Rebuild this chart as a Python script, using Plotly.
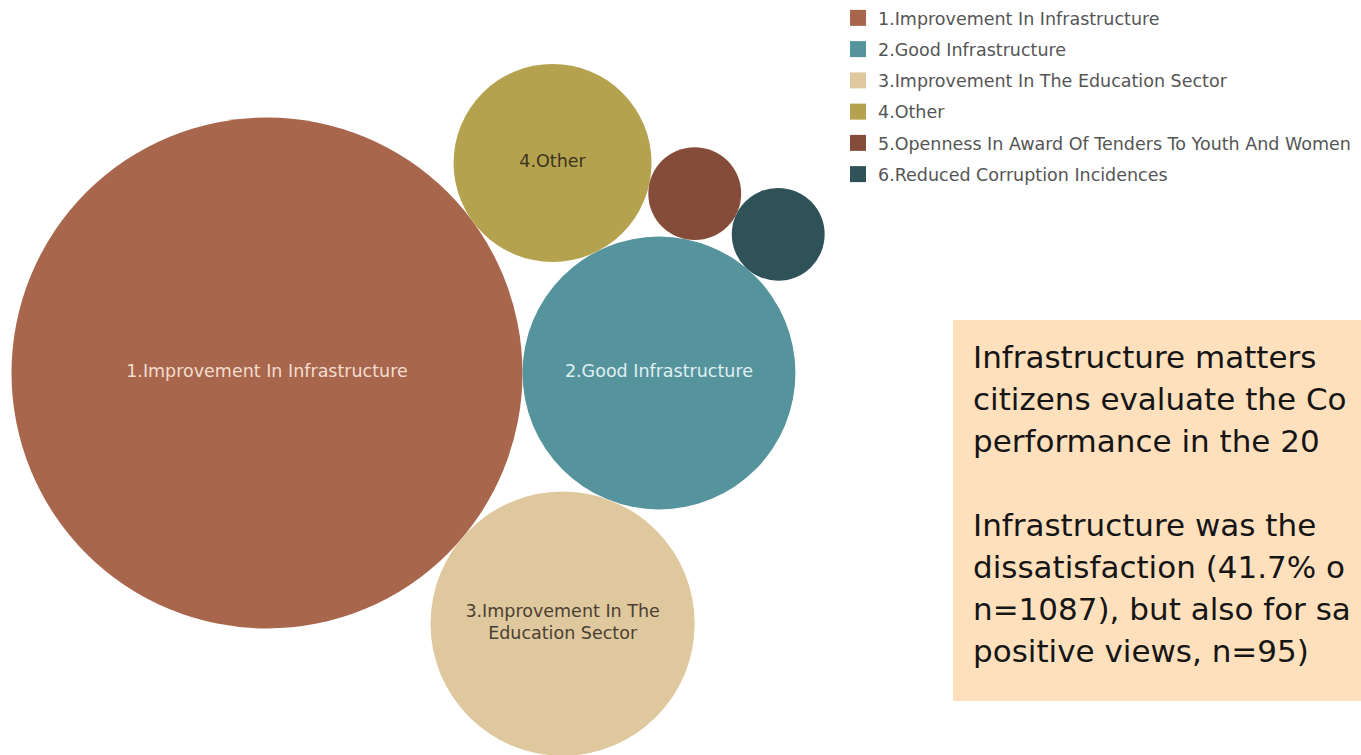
import math
import plotly.graph_objects as go

# ---------------- data ----------------
categories = [
    "1.Improvement In Infrastructure",
    "2.Good Infrastructure",
    "3.Improvement In The Education Sector",
    "4.Other",
    "5.Openness In Award Of Tenders To Youth And Women",
    "6.Reduced Corruption Incidences",
]
bubble_labels = [
    "1.Improvement In Infrastructure",
    "2.Good Infrastructure",
    "3.Improvement In The<br>Education Sector",
    "4.Other",
    "",
    "",
]
values = [333, 95, 89, 50, 11, 11]
colors = ["#A8674C", "#55939D", "#DFC89E", "#B5A24E", "#854D39", "#2F5158"]
label_colors = ["#F3DDD0", "#E0F0F1", "#4A3F33", "#3B341E", "#FFFFFF", "#FFFFFF"]

note_lines = [
    "Infrastructure matters",
    "citizens evaluate the Co",
    "performance in the 20",
    "",
    "Infrastructure was the",
    "dissatisfaction (41.7% o",
    "n=1087), but also for sa",
    "positive views, n=95)",
]

# ---------------- layout (pixel space) ----------------
W, H = 1361, 755
max_radius = 255.5
origin = (267.0, 373.0)

radii = [max_radius * math.sqrt(v / max(values)) for v in values]


def tangent(ca, ra, cb, rb, r):
    """Both centres of a circle of radius r touching circles a and b."""
    da, db = ra + r, rb + r
    dx, dy = cb[0] - ca[0], cb[1] - ca[1]
    D = math.hypot(dx, dy)
    a = (da * da - db * db + D * D) / (2 * D)
    h = math.sqrt(max(da * da - a * a, 0.0))
    ux, uy = dx / D, dy / D
    px, py = ca[0] + a * ux, ca[1] + a * uy
    return [(px - h * uy, py + h * ux), (px + h * uy, py - h * ux)]


centers = [None] * 6
centers[0] = origin
centers[1] = (origin[0] + radii[0] + radii[1], origin[1])
c3 = tangent(centers[0], radii[0], centers[1], radii[1], radii[2])
centers[2] = max(c3, key=lambda p: p[1])          # below
c4 = tangent(centers[0], radii[0], centers[1], radii[1], radii[3])
centers[3] = min(c4, key=lambda p: p[1])          # above
c5 = tangent(centers[3], radii[3], centers[1], radii[1], radii[4])
centers[4] = max(c5, key=lambda p: p[0])          # right
c6 = tangent(centers[4], radii[4], centers[1], radii[1], radii[5])
centers[5] = max(c6, key=lambda p: p[0])          # right

fig = go.Figure()

label_font = "DejaVu Sans"
label_size = 17.5
for i, cat in enumerate(categories):
    fig.add_trace(go.Scatter(
        x=[centers[i][0]], y=[centers[i][1]],
        mode="markers+text",
        marker=dict(size=2 * radii[i], color=colors[i], line=dict(width=0), opacity=1),
        text=[bubble_labels[i]],
        textposition="middle center",
        textfont=dict(family=label_font, size=label_size, color=label_colors[i]),
        showlegend=False,
        hoverinfo="text",
        hovertext=[f"{cat}: {values[i]}"],
    ))

# legend entries (square swatches)
for i, cat in enumerate(categories):
    fig.add_trace(go.Scatter(
        x=[None], y=[None], mode="markers", name=cat,
        marker=dict(symbol="square", size=20, color=colors[i]),
        legendgroup=f"g{i}", showlegend=True,
    ))

# note box
box_x0, box_x1, box_y0, box_y1 = 953, W + 5, 320, 701
fig.add_shape(type="rect", x0=box_x0, x1=box_x1, y0=box_y0, y1=box_y1,
              xref="x", yref="y", fillcolor="#FFE0BD", line=dict(width=0), layer="below")

line_y0, line_step = 357, 42
for k, line in enumerate(note_lines):
    if not line:
        continue
    fig.add_annotation(x=971, y=line_y0 + k * line_step, xref="x", yref="y",
                       text=line, showarrow=False, xanchor="left", yanchor="middle",
                       font=dict(family="DejaVu Sans", size=31, color="#151515"))

fig.update_layout(
    width=W, height=H,
    margin=dict(l=0, r=0, t=0, b=0),
    paper_bgcolor="white", plot_bgcolor="white",
    xaxis=dict(range=[0, W], visible=False, fixedrange=True),
    yaxis=dict(range=[H, 0], visible=False, fixedrange=True),
    legend=dict(x=838 / W, y=1, xanchor="left", yanchor="top",
                font=dict(family=label_font, size=label_size, color="#555555"),
                tracegroupgap=5.5, bgcolor="rgba(0,0,0,0)", itemclick=False),
)

fig.write_html("out.html", config={"displayModeBar": False},
               post_script="document.body.style.margin='0';document.body.style.overflow='hidden';")
